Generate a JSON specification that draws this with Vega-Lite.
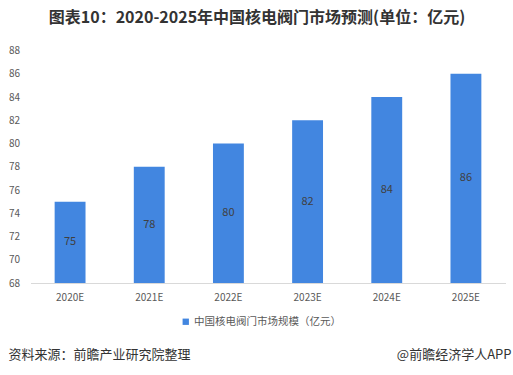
{
  "$schema": "https://vega.github.io/schema/vega-lite/v6.json",
  "autosize": "none",
  "width": 475,
  "height": 232.5,
  "padding": {"left": 30.5, "top": 50.5, "right": 7.5, "bottom": 92},
  "background": "white",
  "config": {
    "view": {"stroke": null},
    "font": "Noto Sans CJK SC",
    "axisY": {
      "labelOverlap": false,
      "grid": false,
      "domain": false,
      "ticks": false,
      "labelPadding": 11,
      "labelFontSize": 10,
      "labelColor": "#595959",
      "titleAngle": 0,
      "titleAlign": "left",
      "titleBaseline": "middle",
      "titleX": -22.5,
      "titleY": 303.5,
      "titleFontSize": 13,
      "titleFontWeight": "normal",
      "titleColor": "#333333"
    }
  },
  "title": {
    "text": "图表10：2020-2025年中国核电阀门市场预测(单位：亿元)",
    "frame": "group",
    "anchor": "middle",
    "baseline": "middle",
    "offset": 11.5,
    "dx": -11,
    "fontSize": 16,
    "fontWeight": "bold",
    "color": "#333333",
    "font": "Noto Sans CJK SC"
  },
  "data": {
    "values": [
      {"year": "2020E", "value": 75, "series": "中国核电阀门市场规模（亿元）"},
      {"year": "2021E", "value": 78, "series": "中国核电阀门市场规模（亿元）"},
      {"year": "2022E", "value": 80, "series": "中国核电阀门市场规模（亿元）"},
      {"year": "2023E", "value": 82, "series": "中国核电阀门市场规模（亿元）"},
      {"year": "2024E", "value": 84, "series": "中国核电阀门市场规模（亿元）"},
      {"year": "2025E", "value": 86, "series": "中国核电阀门市场规模（亿元）"}
    ]
  },
  "transform": [{"calculate": "(datum.value + 68) / 2", "as": "mid"}],
  "encoding": {
    "x": {
      "field": "year",
      "type": "nominal",
      "sort": null,
      "scale": {"paddingInner": 0.61, "paddingOuter": 0.305},
      "axis": {
        "title": "@前瞻经济学人APP",
        "titleFontSize": 13,
        "titleFontWeight": "normal",
        "titleColor": "#333333",
        "titleAnchor": "end",
        "titleAlign": "right",
        "titleBaseline": "middle",
        "titleX": 480.5,
        "titleY": 71,
        "labelAngle": 0,
        "labelFontSize": 10,
        "labelColor": "#595959",
        "labelPadding": 9,
        "ticks": false,
        "domainColor": "#d9d9d9",
        "domainWidth": 1,
        "labelFont": "Noto Sans CJK SC"
      }
    }
  },
  "layer": [
    {
      "mark": {"type": "bar"},
      "encoding": {
        "y": {
          "field": "value",
          "type": "quantitative",
          "scale": {"domain": [68, 88], "nice": false, "zero": false},
          "axis": {"title": "资料来源：前瞻产业研究院整理", "values": [68, 70, 72, 74, 76, 78, 80, 82, 84, 86, 88]}
        },
        "y2": {"datum": 68},
        "color": {
          "field": "series",
          "type": "nominal",
          "scale": {"range": ["#4286E0"]},
          "legend": {
            "title": null,
            "orient": "none",
            "legendX": 150,
            "legendY": 266,
            "symbolType": "square",
            "symbolSize": 40,
            "symbolStrokeWidth": 0,
            "labelFontSize": 10.5,
            "labelColor": "#595959",
            "labelOffset": 3,
            "padding": 0
          }
        }
      }
    },
    {
      "mark": {"type": "text", "fontSize": 11, "color": "#404040", "baseline": "middle"},
      "encoding": {
        "y": {"field": "mid", "type": "quantitative", "axis": {"title": "资料来源：前瞻产业研究院整理", "values": [68, 70, 72, 74, 76, 78, 80, 82, 84, 86, 88]}},
        "text": {"field": "value", "type": "quantitative"}
      }
    }
  ]
}
